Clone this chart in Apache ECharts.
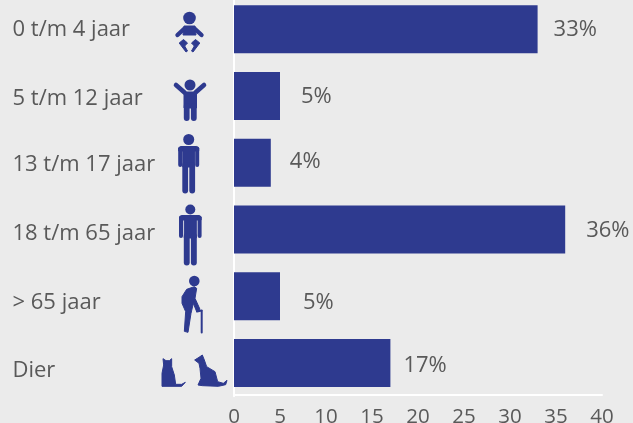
<!DOCTYPE html>
<html><head><meta charset="utf-8">
<style>html,body{margin:0;padding:0;background:#ebebeb}#c{width:633px;height:423px}</style>
<script src="https://cdn.jsdelivr.net/npm/echarts@6/dist/echarts.min.js"></script>
</head><body><div id="c"></div>
<script>
const categories = ['0 t/m 4 jaar','5 t/m 12 jaar','13 t/m 17 jaar','18 t/m 65 jaar','> 65 jaar','Dier'];
const percentages = [33,5,4,36,5,17];
const xTicks = [0,5,10,15,20,25,30,35,40];
// hand-placed nudges seen in the reference
const labelOffsets = [[-4,0],[1,1],[-1,-1],[1,1],[3,7],[-7,3]];
const catNudges = [0,3,2,4,7,8];

const NAVY = '#2e3a8f', TXT = '#595959', FONT = '"Open Sans","Noto Sans",sans-serif';
const chart = echarts.init(document.getElementById('c'), null, {renderer:'canvas'});

const circle=(cx,cy,r)=>({type:'circle',shape:{cx,cy,r},style:{fill:NAVY},silent:true});
const line=(x1,y1,x2,y2,w)=>({type:'line',shape:{x1,y1,x2,y2},style:{stroke:NAVY,lineWidth:w,lineCap:'round'},silent:true});
const poly=(pts)=>({type:'polygon',shape:{points:pts},style:{fill:NAVY,stroke:NAVY,lineWidth:1,lineJoin:'round'},silent:true});
const crop=(arr)=>arr.map(p=>[155+p[0]/3,270+p[1]/3]);
function person(cx,headY,headR,top,armEnd,legEnd,halfW,halfT){
  return [circle(cx,headY,headR),
    poly([[cx-halfW+.5,top+2],[cx-halfW+2.5,top+.5],[cx+halfW-2.5,top+.5],[cx+halfW-.5,top+2],[cx+halfW-.5,top+5],[cx-halfW+.5,top+5]]),
    line(cx-halfW+2,top+2.5,cx-halfW+2,armEnd-2,4),line(cx+halfW-2,top+2.5,cx+halfW-2,armEnd-2,4),
    poly([[cx-halfT+.5,top+1],[cx+halfT-.5,top+1],[cx+halfT-.5,armEnd],[cx-halfT+.5,armEnd]]),
    line(cx-halfT/2-0.3,armEnd-2,cx-halfT/2-0.3,legEnd-2.5,halfT-0.6),
    line(cx+halfT/2+0.3,armEnd-2,cx+halfT/2+0.3,legEnd-2.5,halfT-0.6)];
}
const icons = [
  // baby
  circle(189.5,18,6.3),
  poly([[184,26],[195,26],[196,35],[183,35]]),
  line(177.5,35,184.5,28.5,4.4),line(201.5,35,194.5,28.5,4.4),
  poly([[179.2,43],[183.5,39.5],[187.5,43],[184.7,46],[187.5,51],[186,52]]),
  poly([[199.8,43],[195.5,39.5],[191.5,43],[194.3,46],[191.5,51],[193,52]]),
  // child
  circle(190,85,5.5),
  line(176,85,184.5,92.5,4.6),line(204,85,195.5,92.5,4.6),
  poly([[184,92],[196.5,92],[196.5,108],[184,108]]),
  line(186.7,106,186.7,118,5.8),line(193.8,106,193.8,118,5.8),
  // teen, adult
  ...person(188.7,139.5,5.5,146,167,193,10.5,6.4),
  ...person(190.3,209.5,5,215,238,265,11.3,6.5),
  // elder
  circle(194.3,281,5.3),
  poly(crop([[118,50],[95,58],[81,80],[81,100],[92,125],[88,184],[99,187],[108,130],[115,100],[125,125],[135,118],[120,85],[125,55]])),
  line(201.7,311,201.7,332.5,2),
  line(197,311.5,201.7,310.5,2),
  // cat
  poly(crop([[24,266],[33,272],[43,272],[50,266],[50,290],[58,315],[62,343],[80,343],[91,337],[80,349],[21,349],[21,310],[26,285]])),
  // dog
  poly(crop([[119,270],[132,262],[142,255],[148,270],[155,290],[180,305],[188,335],[205,340],[216,331],[212,344],[190,349],[142,347],[129,345],[138,325],[135,295],[132,280]]))
];

const rich = {};
catNudges.forEach((d,i)=>{
  rich['c'+i]={fontFamily:FONT,fontSize:22,color:TXT,padding:d>=0?[2*d,0,0,0]:[0,0,-2*d,0]};
});

chart.setOption({
  backgroundColor:'#ebebeb',
  animation:false,
  grid:{left:234,width:368,top:-4,height:400.3,outerBoundsMode:'none'},
  xAxis:{type:'value',min:0,max:40,interval:5,offset:-2,
    axisLine:{show:true,lineStyle:{color:'#ffffff',width:2}},axisTick:{show:false},splitLine:{show:false},
    axisLabel:{color:TXT,fontFamily:FONT,fontSize:20.5,margin:12,
      customValues:xTicks,hideOverlap:false,showMinLabel:true,showMaxLabel:true}},
  yAxis:{type:'category',inverse:true,data:categories,offset:0.5,
    axisLine:{show:true,onZero:false,lineStyle:{color:'#ffffff',width:2}},axisTick:{show:false},
    axisLabel:{align:'left',margin:221,
      formatter:(v,i)=>`{c${i}|${v}}`,rich}},
  series:[{type:'bar',barWidth:48,itemStyle:{color:NAVY},
    data:percentages.map((v,i)=>({value:v,label:{offset:labelOffsets[i]}})),
    label:{show:true,position:'right',distance:20,color:TXT,fontFamily:FONT,fontSize:22,formatter:'{c}%'}}],
  graphic:{elements:icons}
});
</script></body></html>
